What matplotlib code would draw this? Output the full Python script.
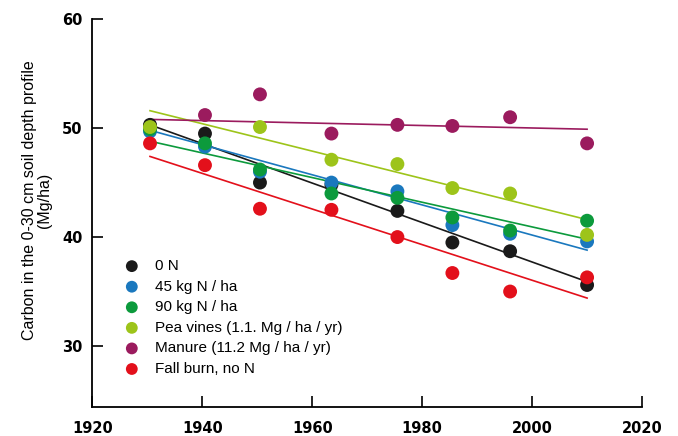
import numpy as np
import matplotlib.pyplot as plt

plt.rcParams['font.family'] = ['Liberation Sans', 'DejaVu Sans']

# sampling years
years = [1930.5, 1940.5, 1950.5, 1963.5, 1975.5, 1985.5, 1996, 2010]

labels = ['0 N', '45 kg N / ha', '90 kg N / ha',
          'Pea vines (1.1. Mg / ha / yr)', 'Manure (11.2 Mg / ha / yr)',
          'Fall burn, no N']
colors = ['#1a1a1a', '#1a78be', '#0c9a3c', '#9dc41a', '#9b1b5e', '#e3101b']

# soil carbon, Mg/ha (nan = no dot visible)
c_0n = [50.3, 49.5, 45.0, 44.8, 42.4, 39.5, 38.7, 35.6]
c_45n = [49.7, 48.3, 46.0, 45.0, 44.2, 41.1, 40.3, 39.6]
c_90n = [49.9, 48.6, 46.2, 44.0, 43.6, 41.8, 40.6, 41.5]
c_pea = [50.1, np.nan, 50.1, 47.1, 46.7, 44.5, 44.0, 40.2]
c_manure = [np.nan, 51.2, 53.1, 49.5, 50.3, 50.2, 51.0, 48.6]
c_burn = [48.6, 46.6, 42.6, 42.5, 40.0, 36.7, 35.0, 36.3]
series = [c_0n, c_45n, c_90n, c_pea, c_manure, c_burn]

# trend lines (value at first and last sampling year)
trend_start = [50.3, 49.8, 48.8, 51.6, 50.8, 47.4]
trend_end = [35.9, 38.8, 39.8, 41.6, 49.9, 34.4]

fig = plt.figure(figsize=(6.78, 4.36), dpi=100)
ax = fig.add_axes([0.1361, 0.0665, 0.8109, 0.8895])

for vals, t0, t1, col, lab in zip(series, trend_start, trend_end, colors, labels):
    ax.plot([years[0], years[-1]], [t0, t1], color=col, linewidth=1.2, zorder=2)
    ax.scatter(years, vals, s=100, color=col, edgecolors='none', label=lab, zorder=3)

ax.set_xlim(1920, 2020)
ax.set_ylim(24.4, 60)
ax.set_xticks([1920, 1940, 1960, 1980, 2000, 2020])
ax.set_yticks([30, 40, 50, 60])
for s in ['top', 'right']:
    ax.spines[s].set_visible(False)
for s in ['left', 'bottom']:
    ax.spines[s].set_linewidth(1.3)
ax.tick_params(direction='in', length=8, width=1.2, labelsize=10.5)
ax.tick_params(axis='y', pad=7)
ax.tick_params(axis='x', pad=10)
for t in ax.get_xticklabels() + ax.get_yticklabels():
    t.set_fontweight('bold')
    t.set_family('DejaVu Sans')

fig.text(0.054, 0.54, 'Carbon in the 0-30 cm soil depth profile\n(Mg/ha)',
         rotation=90, ha='center', va='center', multialignment='center',
         fontsize=11.5, linespacing=1.0)

ax.legend(loc='upper left', bbox_to_anchor=(0.033, 0.397), frameon=False,
          fontsize=11, labelspacing=0.43, handletextpad=0.55, borderaxespad=0,
          scatterpoints=1, markerscale=0.85)

fig.savefig('out.png', dpi=100)
